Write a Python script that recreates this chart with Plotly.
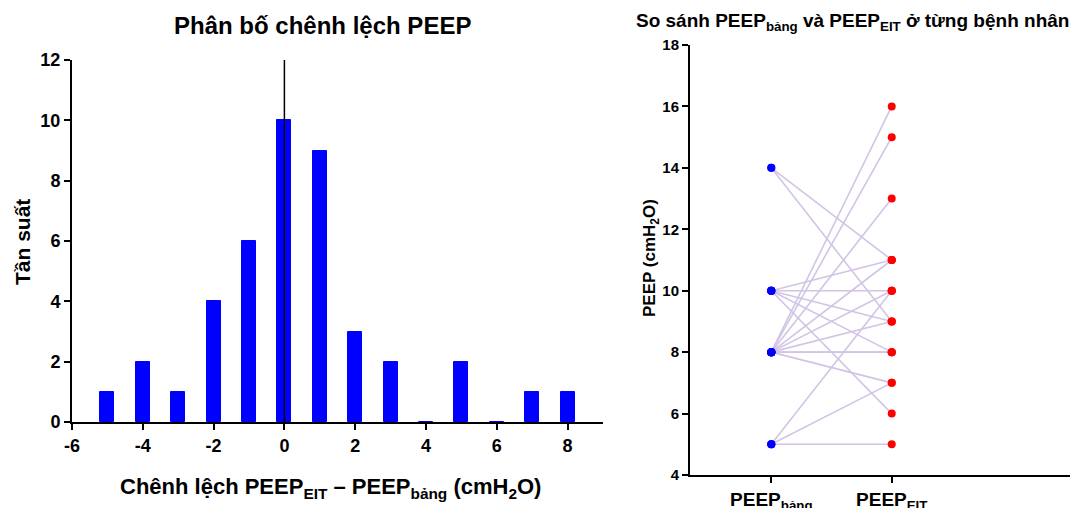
import plotly.graph_objects as go

# ---------------- data ----------------
# Histogram of PEEP_EIT - PEEP_bang differences
diff_values = [-5, -4, -3, -2, -1, 0, 1, 2, 3, 4, 5, 6, 7, 8]
diff_counts = [1, 2, 1, 4, 6, 10, 9, 3, 2, 0, 2, 0, 1, 1]

# Paired PEEP values per patient (distinct visible pairs)
peep_bang = [14, 14, 10, 10, 10, 10, 10, 8, 8, 8, 8, 8, 8, 8, 8, 8, 5, 5, 5]
peep_eit  = [11, 9, 10, 11, 9, 8, 6, 16, 15, 13, 11, 10, 9, 8, 7, 8, 5, 7, 10]

left_ticks = [-6, -4, -2, 0, 2, 4, 6, 8]
left_yticks = [0, 2, 4, 6, 8, 10, 12]
right_yticks = [4, 6, 8, 10, 12, 14, 16, 18]
group_labels = ["PEEP<sub>bảng</sub>", "PEEP<sub>EIT</sub>"]

W, H = 1078, 508
OFF = 8  # page body margin offset
FONT = "Liberation Sans, Arial, sans-serif"


def px(x):
    return (x - OFF) / W


def py(y):
    return 1 - (y - OFF) / H


fig = go.Figure()

# ---- left: histogram ----
fig.add_trace(go.Bar(
    x=diff_values, y=diff_counts, width=0.4,
    marker=dict(color="#0000ff", line=dict(width=1, color="#0000ff")),
    xaxis="x", yaxis="y", showlegend=False,
))

# ---- right: paired lines ----
lx, ly = [], []
for b, e in zip(peep_bang, peep_eit):
    lx += [0, 1, None]
    ly += [b, e, None]
fig.add_trace(go.Scatter(
    x=lx, y=ly, mode="lines",
    line=dict(color="#d3c4e6", width=1.6),
    xaxis="x2", yaxis="y2", showlegend=False, hoverinfo="skip",
))
fig.add_trace(go.Scatter(
    x=[0] * len(peep_bang), y=peep_bang, mode="markers",
    marker=dict(color="#0000ff", size=8),
    xaxis="x2", yaxis="y2", showlegend=False,
))
fig.add_trace(go.Scatter(
    x=[1] * len(peep_eit), y=peep_eit, mode="markers",
    marker=dict(color="#ff0000", size=8),
    xaxis="x2", yaxis="y2", showlegend=False,
))

axis_common = dict(
    showline=True, linecolor="black", linewidth=2,
    ticks="outside", ticklen=6, tickwidth=2, tickcolor="black",
    showgrid=False, zeroline=False, automargin=False,
)

fig.update_layout(
    width=W, height=H,
    margin=dict(l=0, r=0, t=0, b=0),
    paper_bgcolor="white", plot_bgcolor="white",
    font=dict(family=FONT, color="black"),
    bargap=0,
    xaxis=dict(
        domain=[px(72), px(603)], range=[-6, 9],
        tickvals=left_ticks, ticktext=[str(v) for v in left_ticks],
        tickfont=dict(size=18, weight="bold"),
        anchor="y", **axis_common,
    ),
    yaxis=dict(
        domain=[py(422), py(60)], range=[0, 12],
        tickvals=left_yticks,
        tickfont=dict(size=18, weight="bold"),
        anchor="x", **axis_common,
    ),
    xaxis2=dict(
        domain=[px(690), px(1076)], range=[-0.675, 2.53],
        tickvals=[0, 1], ticktext=group_labels,
        tickfont=dict(size=19, weight="bold"),
        anchor="y2", **axis_common,
    ),
    yaxis2=dict(
        domain=[py(475), py(45)], range=[4, 18],
        tickvals=right_yticks,
        tickfont=dict(size=15, weight="bold"),
        anchor="x2", **axis_common,
    ),
    shapes=[dict(
        type="line", xref="x", yref="y", x0=0, x1=0, y0=0, y1=12,
        line=dict(color="black", width=1.5), layer="above",
    )],
    annotations=[
        dict(text="<b>Phân bố chênh lệch PEEP</b>", x=px(322), y=py(25),
             xref="paper", yref="paper", showarrow=False,
             xanchor="center", yanchor="middle", font=dict(size=24)),
        dict(text="<b>Chênh lệch PEEP<sub>EIT</sub> – PEEP<sub>bảng</sub> (cmH<sub>2</sub>O)</b>",
             x=px(330), y=py(488), xref="paper", yref="paper", showarrow=False,
             xanchor="center", yanchor="middle", font=dict(size=22)),
        dict(text="<b>Tần suất</b>", x=px(22), y=py(242), textangle=-90,
             xref="paper", yref="paper", showarrow=False,
             xanchor="center", yanchor="middle", font=dict(size=21)),
        dict(text="<b>So sánh PEEP<sub>bảng</sub> và PEEP<sub>EIT</sub> ở từng bệnh nhân</b>",
             x=px(852), y=py(22), xref="paper", yref="paper", showarrow=False,
             xanchor="center", yanchor="middle", font=dict(size=19)),
        dict(text="<b>PEEP (cmH<sub>2</sub>O)</b>", x=px(651), y=py(258), textangle=-90,
             xref="paper", yref="paper", showarrow=False,
             xanchor="center", yanchor="middle", font=dict(size=17)),
    ],
)

fig.write_html("out.html")
